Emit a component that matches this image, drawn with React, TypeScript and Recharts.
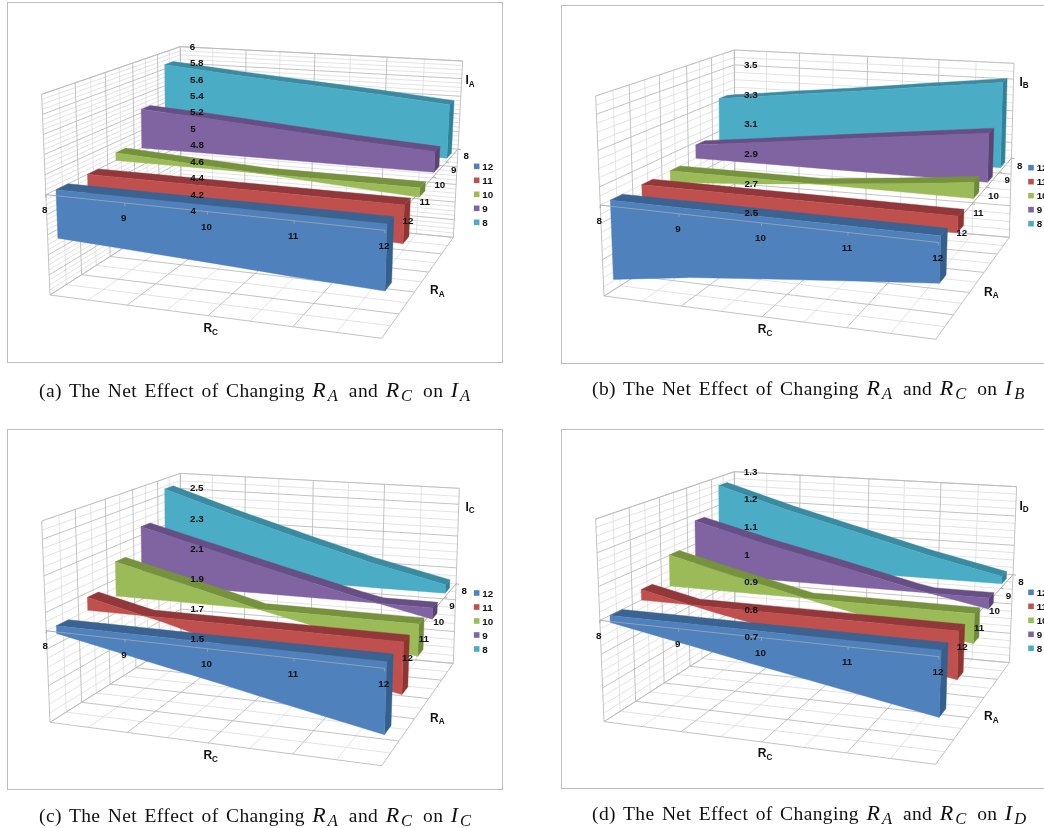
import React from "react";
import { ComposedChart, Area, Line, Scatter, XAxis, YAxis } from "recharts";

// ---- data ----
const RC_VALUES = [8, 9, 10, 11, 12];
const RA_VALUES = [8, 9, 10, 11, 12];
const LEGEND_ORDER = [12, 11, 10, 9, 8];

const IA_RA8 = [5.85, 5.78, 5.72, 5.66, 5.59];
const IA_RA9 = [5.44, 5.39, 5.33, 5.27, 5.22];
const IA_RA10 = [5.085, 5.04, 5.0, 4.95, 4.906];
const IA_RA11 = [4.73, 4.72, 4.7, 4.66, 4.62];
const IA_RA12 = [4.51, 4.475, 4.44, 4.4, 4.37];

const IB_RA8 = [3.315, 3.366, 3.416, 3.471, 3.525];
const IB_RA9 = [3.083, 3.134, 3.187, 3.239, 3.292];
const IB_RA10 = [2.93, 2.96, 3.0, 3.042, 3.091];
const IB_RA11 = [2.91, 2.91, 2.905, 2.905, 2.91];
const IB_RA12 = [2.558, 2.62, 2.665, 2.708, 2.751];

const IC_RA8 = [2.534, 2.4, 2.275, 2.154, 2.051];
const IC_RA9 = [2.353, 2.244, 2.136, 2.029, 1.934];
const IC_RA10 = [2.206, 2.104, 1.997, 1.905, 1.817];
const IC_RA11 = [2.074, 1.977, 1.862, 1.79, 1.713];
const IC_RA12 = [1.958, 1.874, 1.791, 1.703, 1.62];

const ID_RA8 = [1.27, 1.201, 1.14, 1.078, 1.024];
const ID_RA9 = [1.179, 1.12, 1.067, 1.011, 0.965];
const ID_RA10 = [1.102, 1.046, 0.993, 0.945, 0.908];
const ID_RA11 = [1.033, 0.983, 0.939, 0.897, 0.856];
const ID_RA12 = [0.979, 0.937, 0.894, 0.852, 0.81];

const IA_TICKS = ["4", "4.2", "4.4", "4.6", "4.8", "5", "5.2", "5.4", "5.6", "5.8", "6"];
const IB_TICKS = ["2.5", "2.7", "2.9", "3.1", "3.3", "3.5"];
const IC_TICKS = ["1.5", "1.7", "1.9", "2.1", "2.3", "2.5"];
const ID_TICKS = ["0.7", "0.8", "0.9", "1", "1.1", "1.2", "1.3"];

// ---- styles per RA series (8,9,10,11,12) ----
const FACE = ["#4BACC6", "#8064A2", "#9BBB59", "#C0504D", "#4F81BD"];
const TOP = ["#3A8BA2", "#674F86", "#76923C", "#93383A", "#3B6391"];
const CAP = ["#2F8299", "#5B4474", "#6F8B3A", "#8E3532", "#34608E"];

// ---- projection of the 3-D box into the picture ----
type Pt = [number, number];
interface Box { BLT: Pt; BLF: Pt; BRT: Pt; BRF: Pt; FLT: Pt; FLF: Pt; FRT: Pt; FRF: Pt }
const persp = (t: number, b: number) => (t * (1 - b)) / (1 - b * t);
const lerp = (a: number, b: number, t: number) => a + (b - a) * t;
const rcU = (rc: number) => persp((rc - 8) / 4, 0.09);
const depthS = (t: number) => persp(t, 0.214);
const FRONT = 0.04;
const BACK = -0.035;
const RIBBON_SPAN = 0.99;

interface PanelCfg {
  id: string; left: number; top: number; W: number; H: number;
  frame: [number, number, number, number];
  box: Box; vmin: number; vmax: number; base: number; minor: number; majorEvery: number;
  series: number[][]; ticks: string[]; sub: string;
  titleI: Pt; titleC: Pt; titleA: Pt; legendX: number; legendY: number;
  caption: Pt;
}

const PANELS: PanelCfg[] = [
  {
    id: "a", left: 0, top: 0, W: 520, H: 410, frame: [7, 2, 501, 361],
    box: { BLT: [541, 140], BLF: [543, 633], BRT: [1388, 183], BRF: [1360, 712], FLT: [125, 283], FLF: [150, 885], FRT: [1165, 367], FRF: [1145, 1015] },
    vmin: 4, vmax: 6, base: 5, minor: 0.05, majorEvery: 4,
    series: [IA_RA8, IA_RA9, IA_RA10, IA_RA11, IA_RA12], ticks: IA_TICKS, sub: "A",
    titleI: [1410, 240], titleC: [632, 985], titleA: [1312, 870], legendX: 1430, legendY: 499, caption: [39, 379],
  },
  {
    id: "b", left: 550, top: 0, W: 494, H: 410, frame: [11, 5, 520, 362],
    box: { BLT: [553, 150], BLF: [555, 640], BRT: [1392, 190], BRF: [1378, 712], FLT: [137, 288], FLF: [162, 888], FRT: [1177, 379], FRF: [1157, 1018] },
    vmin: 2.5, vmax: 3.6, base: 3, minor: 0.05, majorEvery: 4,
    series: [IB_RA8, IB_RA9, IB_RA10, IB_RA11, IB_RA12], ticks: IB_TICKS, sub: "B",
    titleI: [1422, 245], titleC: [645, 988], titleA: [1324, 875], legendX: 1443, legendY: 503, caption: [592, 377],
  },
  {
    id: "c", left: 0, top: 420, W: 520, H: 408, frame: [7, 9, 501, 368],
    box: { BLT: [541, 160], BLF: [543, 658], BRT: [1378, 205], BRF: [1360, 730], FLT: [125, 303], FLF: [150, 907], FRT: [1165, 395], FRF: [1145, 1037] },
    vmin: 1.5, vmax: 2.6, base: 2, minor: 0.05, majorEvery: 4,
    series: [IC_RA8, IC_RA9, IC_RA10, IC_RA11, IC_RA12], ticks: IC_TICKS, sub: "C",
    titleI: [1410, 260], titleC: [632, 1005], titleA: [1312, 893], legendX: 1430, legendY: 519, caption: [39, 804],
  },
  {
    id: "d", left: 550, top: 420, W: 494, H: 408, frame: [11, 9, 520, 367],
    box: { BLT: [553, 155], BLF: [555, 652], BRT: [1400, 200], BRF: [1378, 728], FLT: [137, 297], FLF: [162, 905], FRT: [1177, 387], FRF: [1157, 1033] },
    vmin: 0.7, vmax: 1.3, base: 1, minor: 0.025, majorEvery: 4,
    series: [ID_RA8, ID_RA9, ID_RA10, ID_RA11, ID_RA12], ticks: ID_TICKS, sub: "D",
    titleI: [1422, 257], titleC: [645, 1000], titleA: [1324, 888], legendX: 1443, legendY: 517, caption: [592, 802],
  },
];

const projector = (p: PanelCfg) => (u: number, s: number, v: number): Pt => {
  const b = p.box;
  const w = (v - p.vmin) / (p.vmax - p.vmin);
  const mix = (i: 0 | 1) => {
    const floor = lerp(lerp(b.BLF[i], b.BRF[i], u), lerp(b.FLF[i], b.FRF[i], u), s);
    const top = lerp(lerp(b.BLT[i], b.BRT[i], u), lerp(b.FLT[i], b.FRT[i], u), s);
    return lerp(floor, top, w) / 3;
  };
  return [mix(0), p.H - mix(1)];
};

// turns an x-monotone polygon into the low/high rows a range Area draws
const bandRows = (poly: Pt[]) => {
  const xs = Array.from(new Set(poly.map((q) => Math.round(q[0] * 100) / 100))).sort((a, b) => a - b);
  return xs.map((x) => {
    const ys: number[] = [];
    poly.forEach((a, i) => {
      const b = poly[(i + 1) % poly.length];
      const lo = Math.min(a[0], b[0]) - 0.006;
      const hi = Math.max(a[0], b[0]) + 0.006;
      if (x < lo || x > hi) return;
      if (Math.abs(a[0] - b[0]) < 0.02) ys.push(a[1], b[1]);
      else ys.push(a[1] + ((b[1] - a[1]) * (x - a[0])) / (b[0] - a[0]));
    });
    return { x, band: [Math.min(...ys), Math.max(...ys)] };
  });
};

const lineRows = (segs: Pt[][]) => {
  const rows: { x: number; ly: number | null }[] = [];
  segs.forEach((seg) => {
    seg.forEach((q) => rows.push({ x: q[0], ly: q[1] }));
    rows.push({ x: seg[seg.length - 1][0], ly: null });
  });
  return rows;
};

const FONT = "'Liberation Sans', Arial, sans-serif";
const LabelShape = (props: any) => {
  const { cx, cy, payload } = props;
  if (payload.swatch) {
    return <rect x={cx - 2.8} y={cy - 2.8} width={5.6} height={5.6} fill={payload.swatch} />;
  }
  return (
    <text x={cx} y={cy} dominantBaseline="central" textAnchor={payload.anchor || "middle"} fontFamily={FONT}
      fontSize={payload.size || 9.8} fontWeight={payload.weight || 700} fill="#111">
      {payload.text}
      {payload.sub ? <tspan fontSize={payload.size * 0.68} dy={3.5}>{payload.sub}</tspan> : null}
    </text>
  );
};

const Layer = ({ p, children }: { p: PanelCfg; children: React.ReactNode }) => (
  <div style={{ position: "absolute", left: 0, top: 0 }}>
    <ComposedChart width={p.W} height={p.H} margin={{ top: 0, right: 0, bottom: 0, left: 0 }}>
      <XAxis type="number" dataKey="x" domain={[0, p.W]} hide allowDataOverflow />
      <YAxis type="number" dataKey="y" domain={[0, p.H]} hide allowDataOverflow width={0} />
      {children}
    </ComposedChart>
  </div>
);

const Panel = ({ p }: { p: PanelCfg }) => {
  const P = projector(p);
  const minorSegs: Pt[][] = [];
  const majorSegs: Pt[][] = [];
  const nSteps = Math.floor((p.vmax - p.vmin) / p.minor + 1e-6);
  for (let k = 0; k <= nSteps; k++) {
    const v = p.vmin + k * p.minor;
    (k % p.majorEvery === 0 ? majorSegs : minorSegs).push([P(0, 1, v), P(0, 0, v), P(1, 0, v)]);
  }
  majorSegs.push([P(0, 1, p.vmax), P(0, 0, p.vmax), P(1, 0, p.vmax)]);
  for (let k = 0; k <= 8; k++) {
    const u = persp(k / 8, 0.09);
    (k % 2 === 0 ? majorSegs : minorSegs).push([P(u, 0, p.vmax), P(u, 0, p.vmin), P(u, 1, p.vmin)]);
  }
  for (let k = 0; k <= 10; k++) {
    const s = depthS(k / 10);
    (k % 2 === 0 ? majorSegs : minorSegs).push([P(0, s, p.vmax), P(0, s, p.vmin), P(1, s, p.vmin)]);
  }
  const raAxis: Pt[][] = [[P(1, 0, p.base), P(1, 1, p.base)]];
  RA_VALUES.forEach((_, i) => {
    const q = P(1, depthS(0.2 * i), p.base);
    raAxis.push([q, [q[0] + 3, q[1] - 0.5]]);
  });
  const rcAxis: Pt[][] = [[P(0, 1, p.base), P(1, 1, p.base)]];
  RC_VALUES.forEach((rc) => {
    const q = P(rcU(rc), 1, p.base);
    rcAxis.push([q, [q[0], q[1] - 3]]);
  });

  const marks: React.ReactNode[] = [];
  p.series.forEach((vals, i) => {
    const c = 0.1 + 0.2 * i;
    const sF = depthS(c + FRONT);
    const sB = depthS(c + BACK);
    const stops: { u: number; v: number }[] = [];
    vals.forEach((v, j) => {
      stops.push({ u: rcU(RC_VALUES[j]) * RIBBON_SPAN, v });
      const nx = vals[j + 1];
      if (nx !== undefined && (v - p.base) * (nx - p.base) < 0) {
        const f = (p.base - v) / (nx - v);
        stops.push({ u: rcU(RC_VALUES[j] + f) * RIBBON_SPAN, v: p.base });
      }
    });
    const hi = (v: number) => Math.max(v, p.base);
    const lo = (v: number) => Math.min(v, p.base);
    const facePoly: Pt[] = [
      ...stops.map((t) => P(t.u, sF, hi(t.v))),
      ...stops.slice().reverse().map((t) => P(t.u, sF, lo(t.v))),
    ];
    const topPoly: Pt[] = [
      ...stops.map((t) => P(t.u, sB, hi(t.v))),
      ...stops.slice().reverse().map((t) => P(t.u, sF, hi(t.v))),
    ];
    const last = vals[vals.length - 1];
    const uEnd = RIBBON_SPAN;
    const capPoly: Pt[] = [P(uEnd, sF, hi(last)), P(uEnd, sB, hi(last)), P(uEnd, sB, lo(last)), P(uEnd, sF, lo(last))];
    const add = (poly: Pt[], fill: string, key: string) =>
      marks.push(
        <Area key={key} data={bandRows(poly)} dataKey="band" type="linear" fill={fill} fillOpacity={1}
          stroke={fill} strokeWidth={0.4} dot={false} activeDot={false} isAnimationActive={false} />
      );
    add(capPoly, CAP[i], `cap${i}`);
    add(topPoly, TOP[i], `top${i}`);
    add(facePoly, FACE[i], `face${i}`);
  });

  const labels: any[] = [];
  const add = (q: Pt, o: any) => labels.push({ x: q[0], y: q[1], ...o });
  p.ticks.forEach((t) => {
    const q = P(0, 0, parseFloat(t));
    add([q[0] + 9.5, q[1] + 0.5], { text: t, anchor: "start" });
  });
  RC_VALUES.forEach((rc) => {
    const q = P(rcU(rc), 1, p.base);
    add([q[0] - 1, q[1] - 15], { text: String(rc) });
  });
  RA_VALUES.forEach((ra, i) => {
    const q = P(1, depthS(0.1 + 0.2 * i), p.base);
    add([q[0] + 14, q[1]], { text: String(ra) });
  });
  const z = (t: Pt): Pt => [t[0] / 3, p.H - t[1] / 3];
  add(z(p.titleI), { text: "I", sub: p.sub, size: 12 });
  add(z(p.titleC), { text: "R", sub: "C", size: 12 });
  add(z(p.titleA), { text: "R", sub: "A", size: 12 });
  LEGEND_ORDER.forEach((ra, i) => {
    const seriesIdx = RA_VALUES.indexOf(ra);
    const y = p.legendY + i * 42;
    add(z([p.legendX, y]), { swatch: FACE[seriesIdx] });
    add(z([p.legendX + 17, y]), { text: String(ra), anchor: "start" });
  });

  const [fx0, fy0, fx1, fy1] = p.frame;
  return (
    <div style={{ position: "absolute", left: p.left, top: p.top, width: p.W, height: p.H, overflow: "hidden" }}>
      <div style={{ position: "absolute", left: fx0, top: fy0, width: fx1 - fx0, height: fy1 - fy0, border: "1px solid #bdbdbd", background: "#fff" }} />
      <Layer p={p}>
        <Line data={lineRows(minorSegs)} dataKey="ly" stroke="#dcdcdc" strokeWidth={0.8} dot={false} activeDot={false} isAnimationActive={false} />
        <Line data={lineRows(majorSegs)} dataKey="ly" stroke="#bcbcbc" strokeWidth={0.9} dot={false} activeDot={false} isAnimationActive={false} />
        <Line data={lineRows(raAxis)} dataKey="ly" stroke="#a8a8a8" strokeWidth={0.9} dot={false} activeDot={false} isAnimationActive={false} />
      </Layer>
      <Layer p={p}>{marks}</Layer>
      <Layer p={p}>
        <Line data={lineRows(rcAxis)} dataKey="ly" stroke="#9aa4b0" strokeWidth={0.9} dot={false} activeDot={false} isAnimationActive={false} />
        <Scatter data={labels} shape={LabelShape} isAnimationActive={false} />
      </Layer>
    </div>
  );
};

const Mi = ({ c, s }: { c: string; s: string }) => (
  <span style={{ fontStyle: "italic", fontSize: 22, letterSpacing: "2px", marginRight: 1.5 }}>
    {c}
    <span style={{ fontSize: 16.5, position: "relative", top: 4 }}>{s}</span>
  </span>
);
const Caption = ({ p, tag }: { p: PanelCfg; tag: string }) => (
  <div style={{ position: "absolute", left: p.caption[0], top: p.caption[1], whiteSpace: "nowrap", font: "19.5px 'Liberation Serif', serif", letterSpacing: "0.38px", wordSpacing: "2.2px", color: "#111", lineHeight: "22px" }}>
    ({tag}) The Net Effect of Changing <Mi c="R" s="A" /> and <Mi c="R" s="C" /> on <Mi c="I" s={p.sub} />
  </div>
);

export default function App() {
  return (
    <div style={{ position: "fixed", left: 0, top: 0, width: 1044, height: 828, overflow: "hidden", background: "#fff", filter: "blur(0.4px)" }}>
      {PANELS.map((p) => <Panel key={p.id} p={p} />)}
      {PANELS.map((p) => <Caption key={p.id} p={p} tag={p.id} />)}
    </div>
  );
}
